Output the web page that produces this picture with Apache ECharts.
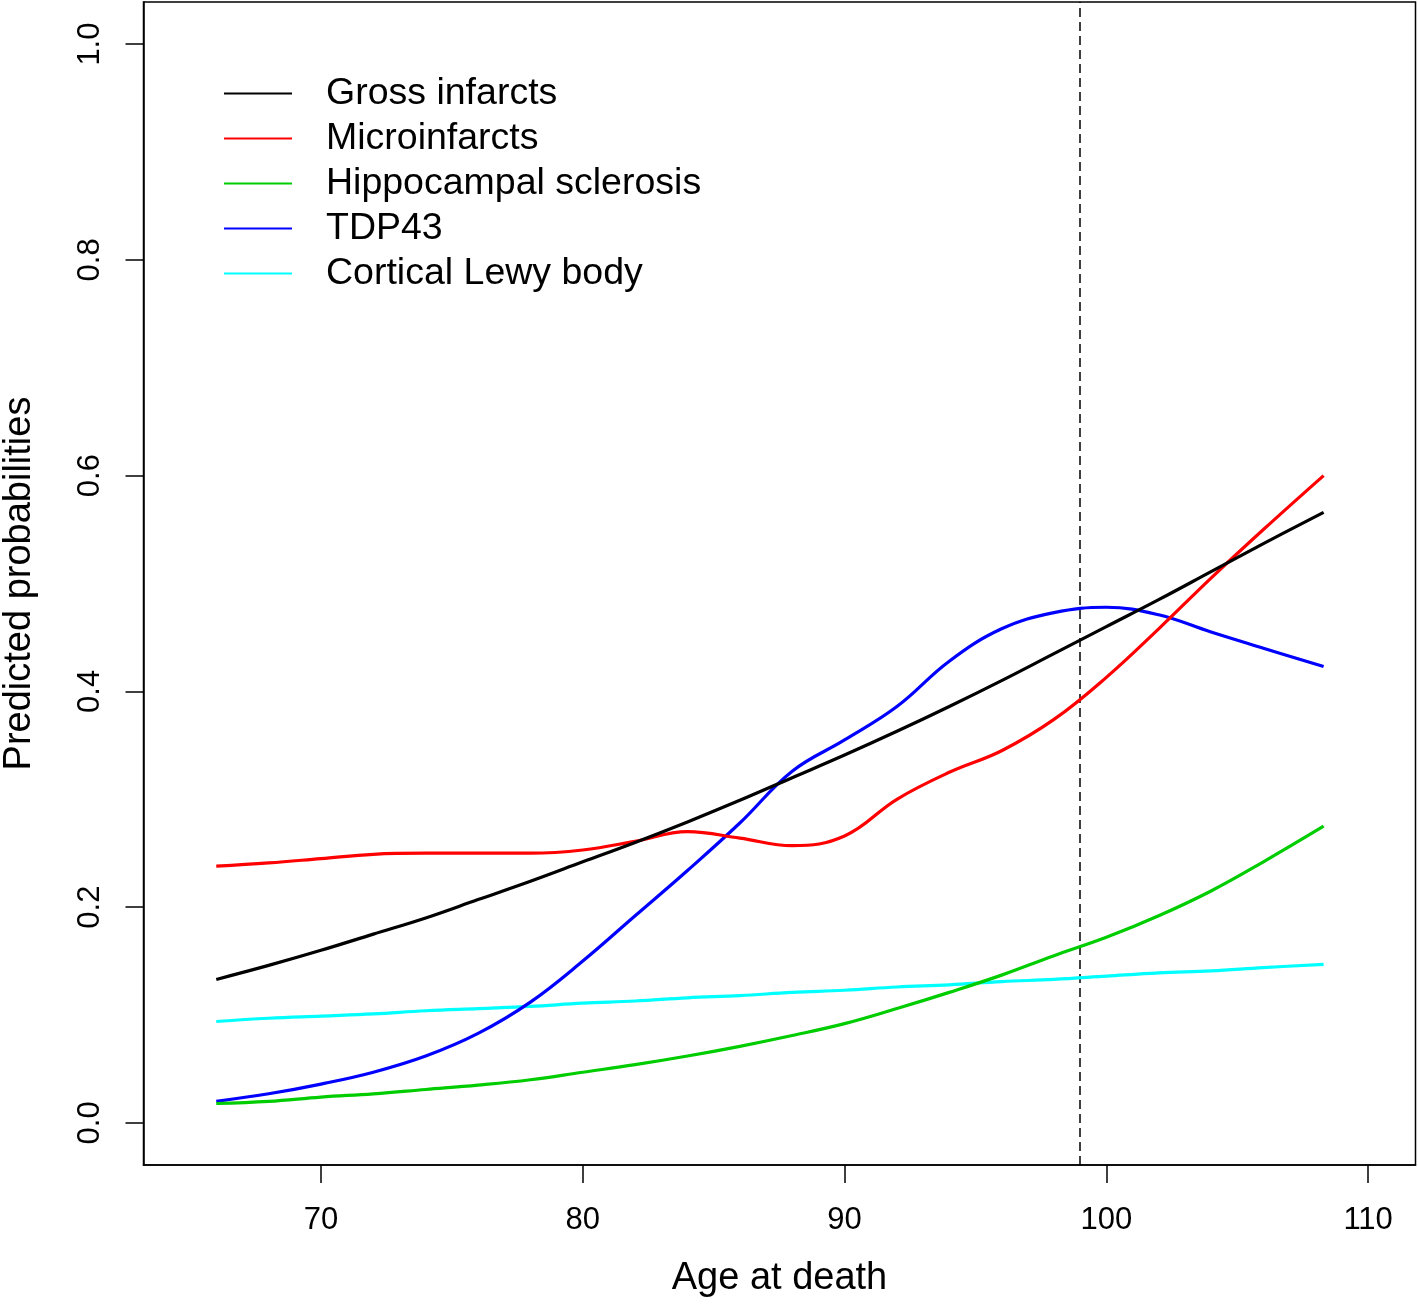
<!DOCTYPE html>
<html>
<head>
<meta charset="utf-8">
<script src="https://cdn.jsdelivr.net/npm/echarts@6/dist/echarts.min.js"></script>
<style>
  html, body { margin: 0; padding: 0; background: #fff; }
  #main { width: 1418px; height: 1304px; }
</style>
</head>
<body>
<div id="main"></div>
<script>
const ages = [66, 68, 70, 72, 74, 76, 78, 80, 82, 84, 86, 88, 90, 92, 94, 96, 98, 100, 102, 104, 106, 108.3];

const grossInfarcts = [0.133, 0.146, 0.160, 0.175, 0.190, 0.207, 0.224, 0.242, 0.260, 0.279, 0.299, 0.320, 0.341, 0.363, 0.386, 0.410, 0.435, 0.460, 0.485, 0.511, 0.537, 0.566];
const microinfarcts = [0.238, 0.241, 0.245, 0.249, 0.250, 0.250, 0.250, 0.253, 0.261, 0.270, 0.264, 0.257, 0.266, 0.300, 0.325, 0.345, 0.374, 0.413, 0.458, 0.505, 0.550, 0.600];
const hippocampal = [0.018, 0.020, 0.024, 0.027, 0.031, 0.035, 0.040, 0.047, 0.054, 0.062, 0.071, 0.081, 0.092, 0.106, 0.121, 0.137, 0.155, 0.172, 0.192, 0.215, 0.242, 0.275];
const tdp43 = [0.020, 0.027, 0.036, 0.047, 0.062, 0.083, 0.112, 0.150, 0.192, 0.234, 0.278, 0.326, 0.355, 0.386, 0.428, 0.458, 0.473, 0.478, 0.471, 0.455, 0.440, 0.423];
const lewyBody = [0.094, 0.097, 0.099, 0.101, 0.104, 0.106, 0.108, 0.111, 0.113, 0.116, 0.118, 0.121, 0.123, 0.126, 0.128, 0.131, 0.133, 0.136, 0.139, 0.141, 0.144, 0.147];

const seriesNames = ['Gross infarcts', 'Microinfarcts', 'Hippocampal sclerosis', 'TDP43', 'Cortical Lewy body'];
const seriesColors = ['#000000', '#ff0000', '#00cd00', '#0000ff', '#00ffff'];
const seriesValues = [grossInfarcts, microinfarcts, hippocampal, tdp43, lewyBody];

const xTicks = [70, 80, 90, 100, 110];
const yTicks = [0, 0.2, 0.4, 0.6, 0.8, 1.0];
const cutoffAge = 99;

const font = 'Liberation Sans, Arial, sans-serif';

var chartDom = document.getElementById('main');
var myChart = echarts.init(chartDom);

let series = [];
for (let i = 0; i < seriesNames.length; i++) {
    let pts = [];
    for (let j = 0; j < ages.length; j++) {
        pts.push([ages[j], seriesValues[i][j]]);
    }
    let s = {
        name: seriesNames[i],
        type: 'line',
        data: pts,
        smooth: 0.4,
        symbol: 'none',
        color: seriesColors[i],
        lineStyle: { width: 3.2, color: seriesColors[i] },
        z: 10 - i
    };
    if (i == 0) {
        // vertical dashed reference line
        s.markLine = {
            silent: true,
            symbol: 'none',
            label: { show: false },
            lineStyle: { type: [9, 5], color: '#000', width: 1.5 },
            data: [{ xAxis: cutoffAge }]
        };
    }
    series.push(s);
}

var option = {
    backgroundColor: '#fff',
    animation: false,
    grid: {
        left: 143.5, right: 2.5, top: 2, bottom: 139,
        outerBoundsMode: 'none',
        containLabel: false,
        show: true, borderColor: '#000', borderWidth: 1.5, backgroundColor: 'transparent'
    },
    legend: {
        orient: 'vertical',
        left: 224,
        top: 71,
        padding: 0,
        icon: 'rect',
        itemWidth: 68,
        itemHeight: 2,
        itemGap: 0,
        textStyle: { fontFamily: font, fontSize: 37.5, color: '#000', lineHeight: 45, padding: [0, 0, 0, 29] },
        data: seriesNames
    },
    xAxis: {
        type: 'value',
        min: 63.22,
        max: 111.81,
        name: 'Age at death',
        nameLocation: 'middle',
        nameGap: 95,
        nameTextStyle: { fontFamily: font, fontSize: 38, color: '#000' },
        axisLine: { show: true, onZero: false, lineStyle: { color: '#000', width: 1.5 } },
        axisTick: { show: true, length: 18, customValues: xTicks, lineStyle: { color: '#000', width: 1.5 } },
        axisLabel: { customValues: xTicks, margin: 40, fontFamily: font, fontSize: 31, color: '#000' },
        splitLine: { show: false }
    },
    yAxis: {
        type: 'value',
        min: -0.039,
        max: 1.039,
        name: 'Predicted probabilities',
        nameLocation: 'middle',
        nameGap: 105,
        nameTextStyle: { fontFamily: font, fontSize: 38, color: '#000' },
        axisLine: { show: true, onZero: false, lineStyle: { color: '#000', width: 1.5 } },
        axisTick: { show: true, length: 18, customValues: yTicks, lineStyle: { color: '#000', width: 1.5 } },
        axisLabel: {
            customValues: yTicks, rotate: 90, margin: 38,
            fontFamily: font, fontSize: 31, color: '#000',
            formatter: function (v) { return v.toFixed(1); }
        },
        splitLine: { show: false }
    },
    series: series
};

option && myChart.setOption(option);
</script>
</body>
</html>
